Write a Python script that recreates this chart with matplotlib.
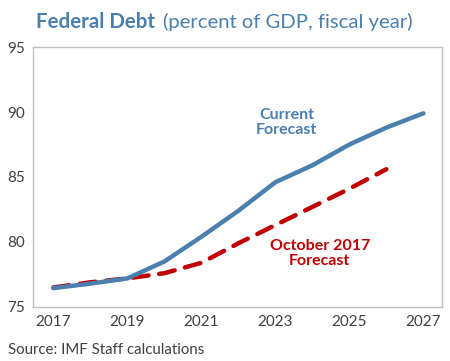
import matplotlib.pyplot as plt

years = [2017, 2018, 2019, 2020, 2021, 2022, 2023, 2024, 2025, 2026, 2027]
current = [76.45, 76.8, 77.2, 78.5, 80.4, 82.4, 84.6, 85.9, 87.5, 88.8, 89.9]
oct_years = [2017, 2018, 2019, 2020, 2021, 2022, 2023, 2024, 2025, 2026]
october = [76.5, 76.9, 77.2, 77.6, 78.4, 79.9, 81.3, 82.7, 84.1, 85.6]

blue = '#4a7fae'
red = '#c00000'
gray = '#404040'

plt.rcParams['font.family'] = ['Lato', 'DejaVu Sans']

fig = plt.figure(figsize=(4.5, 3.61), dpi=100)
ax = fig.add_axes([0.0733, 0.1496, 0.9087, 0.7202])

ax.plot(years, current, color=blue, lw=3.2, solid_capstyle='round', zorder=3)
ax.plot(oct_years, october, color=red, lw=3.2, dashes=(3.6, 2.4), dash_capstyle='round', zorder=2)

ax.set_xlim(2016.45, 2027.5)
ax.set_ylim(75, 95)
ax.set_xticks([2017, 2019, 2021, 2023, 2025, 2027])
ax.set_yticks([75, 80, 85, 90, 95])
ax.tick_params(length=0, labelsize=11, colors=gray, pad=6)
for s in ax.spines.values():
    s.set_color('#bfbfbf')
    s.set_linewidth(1)

ax.text(2023.3, 89.2, 'Current\nForecast', color=blue, fontsize=11.5, fontweight='bold',
        ha='center', va='center', linespacing=1.1)
ax.text(2024.2, 79.1, 'October 2017\nForecast', color=red, fontsize=11.5, fontweight='bold',
        ha='center', va='center', linespacing=1.1)

t1 = fig.text(0.08, 0.94, 'Federal Debt', color=blue, fontsize=14.8, fontweight='bold', va='center')
fig.canvas.draw()
bb = t1.get_window_extent()
fig.text(bb.x1 / fig.bbox.width + 0.018, 0.94, '(percent of GDP, fiscal year)',
         color=blue, fontsize=14.6, va='center')
fig.text(0.018, 0.03, 'Source: IMF Staff calculations', color=gray, fontsize=10.8, va='center')

fig.savefig('out.png', dpi=100)
